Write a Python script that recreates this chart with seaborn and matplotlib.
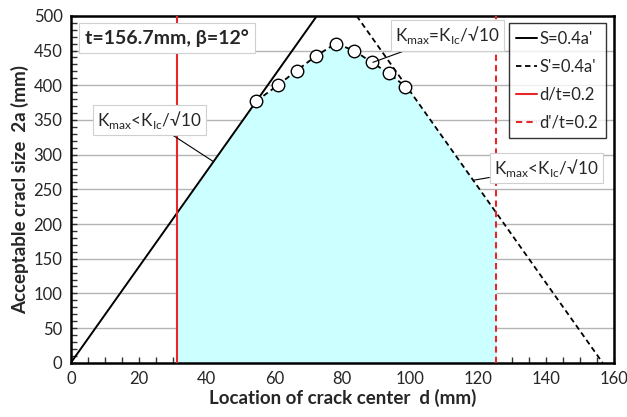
import numpy as np
import pandas as pd
import matplotlib
matplotlib.use("Agg")
import matplotlib.pyplot as plt
import seaborn as sns

# data
t = 156.7
s_line_x = [0.0, 72.5]
s_line_y = [0.0, 500.0]
s2_line_x = [t - 72.5, t]
s2_line_y = [500.0, 0.0]
d_lim = 0.2 * t
d2_lim = t - 0.2 * t

crack_x = [54.6, 61.0, 66.5, 72.2, 78.0, 83.5, 88.6, 93.8, 98.6]
crack_y = [377, 400, 421, 442, 460, 450, 433, 417, 398]

sns.set_theme(style="white")
plt.rcParams['font.family'] = ['Lato', 'DejaVu Sans']

fig, ax = plt.subplots(figsize=(6.27, 4.17), dpi=100)
fig.subplots_adjust(left=0.113, right=0.979, bottom=0.13, top=0.962)

# cyan region: below both lines and below the crack curve
xf = np.linspace(d_lim, d2_lim, 600)
left = np.interp(xf, s_line_x, s_line_y, right=1e9)
right = np.interp(xf, s2_line_x, s2_line_y, left=1e9)
curve = np.interp(xf, crack_x, crack_y, left=1e9, right=1e9)
upper = np.minimum(np.minimum(left, right), curve)
ax.fill_between(xf, 0, upper, color="#ccffff", lw=0, zorder=1)

for y in range(50, 500, 50):
    ax.axhline(y, color="#b4b4b4", lw=1, zorder=0.5)

sns.lineplot(x=s_line_x, y=s_line_y, ax=ax, color="black", lw=1.4, label="S=0.4a'", zorder=3)
sns.lineplot(x=s2_line_x, y=s2_line_y, ax=ax, color="black", lw=1.3, linestyle=(0, (3, 2)), label="S'=0.4a'", zorder=3)
ax.axvline(d_lim, color="#e8262a", lw=1.5, label="d/t=0.2", zorder=3)
ax.axvline(d2_lim, color="#e8262a", lw=1.5, linestyle=(0, (3, 2)), label="d'/t=0.2", zorder=3)

ax.plot(crack_x, crack_y, color="black", lw=1.3, linestyle=(0, (3, 2)), marker="o",
        ms=9, mfc="white", mec="black", mew=1.0, zorder=4)

ax.set_xlim(0, 160)
ax.set_ylim(0, 500)
ax.set_xticks(range(0, 161, 20))
ax.set_yticks(range(0, 501, 50))
ax.set_xticks(range(0, 161, 5), minor=True)
ax.set_yticks(range(0, 501, 10), minor=True)
ax.tick_params(axis="both", which="both", direction="in", length=4, width=1, color="#333333",
               labelsize=12, pad=6)
ax.tick_params(axis="x", which="both", bottom=True, top=False)
ax.tick_params(axis="y", which="both", left=True, right=False)
for sp in ax.spines.values():
    sp.set_color("black")
    sp.set_linewidth(1.8)

ax.set_xlabel("Location of crack center  d (mm)", fontsize=13.5, fontweight="bold", labelpad=1)
ax.set_ylabel("Acceptable cracl size  2a (mm)", fontsize=13.5, fontweight="bold", labelpad=3)

box = dict(boxstyle="square,pad=0.25", fc="white", ec="#d0d0d0", lw=0.8)
ax.text(4.2, 468, "t=156.7mm, β=12°", fontsize=14, fontweight="bold", va="center", ha="left",
        bbox=dict(boxstyle="square,pad=0.3", fc="white", ec="#d0d0d0", lw=0.8), zorder=5)

kl = r"K$_{\mathregular{max}}$<K$_{\mathregular{Ic}}$/√10"
ke = r"K$_{\mathregular{max}}$=K$_{\mathregular{Ic}}$/√10"
arrow = dict(arrowstyle="-", color="black", lw=0.8, shrinkA=0, shrinkB=0)
ax.annotate(kl, xy=(42, 290), xytext=(7.7, 350), fontsize=12.3, va="center", ha="left",
            bbox=box, arrowprops=arrow, zorder=5)
ax.annotate(ke, xy=(89, 433), xytext=(95.5, 472), fontsize=12.3, va="center", ha="left",
            bbox=box, arrowprops=arrow, zorder=5)
ax.annotate(kl, xy=(118.5, 263), xytext=(124.7, 281), fontsize=12.3, va="center", ha="left",
            bbox=box, arrowprops=arrow, zorder=5)

leg = ax.legend(loc="upper right", bbox_to_anchor=(0.985, 0.979), borderaxespad=0, fontsize=12,
                frameon=True, fancybox=False, edgecolor="black", handlelength=1.25,
                handletextpad=0.15, borderpad=0.45, labelspacing=0.72)
leg.get_frame().set_linewidth(1.0)
leg.set_zorder(6)

fig.savefig("out.png", dpi=100, facecolor="white")
